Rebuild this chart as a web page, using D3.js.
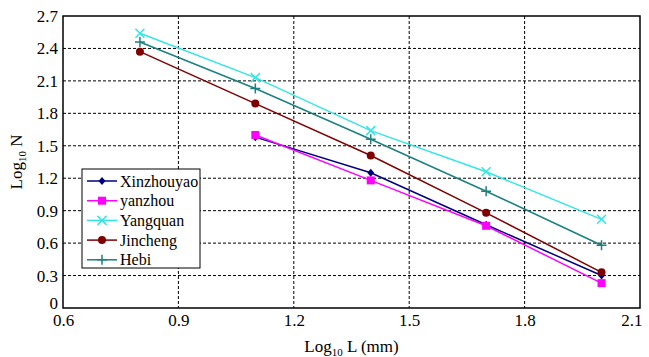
<!DOCTYPE html>
<html>
<head>
<meta charset="utf-8">
<script src="https://cdn.jsdelivr.net/npm/d3@7"></script>
<style>
  body { margin: 0; background: #fff; }
  svg { display: block; font-family: "Liberation Serif", "Times New Roman", serif; }
  svg text { font-family: "Liberation Serif", "Times New Roman", serif; }
</style>
</head>
<body>
<svg width="649" height="357"></svg>
<script>
'use strict'

// data
const xVals = [0.8, 1.1, 1.4, 1.7, 2.0];
const xTicks = [0.6, 0.9, 1.2, 1.5, 1.8, 2.1];
const yTicks = [0, 0.3, 0.6, 0.9, 1.2, 1.5, 1.8, 2.1, 2.4, 2.7];

const xinzhouyao = [null, 1.58, 1.25, 0.77, 0.30];
const yanzhou = [null, 1.60, 1.18, 0.76, 0.23];
const yangquan = [2.54, 2.13, 1.64, 1.26, 0.82];
const jincheng = [2.37, 1.89, 1.41, 0.88, 0.33];
const hebi = [2.46, 2.03, 1.56, 1.08, 0.58];

const series = [
  { name: 'Xinzhouyao', values: xinzhouyao, color: '#00007f', marker: 'diamond' },
  { name: 'yanzhou', values: yanzhou, color: '#ff00ff', marker: 'square' },
  { name: 'Yangquan', values: yangquan, color: '#33e6e6', marker: 'cross' },
  { name: 'Jincheng', values: jincheng, color: '#800000', marker: 'circle' },
  { name: 'Hebi', values: hebi, color: '#1a8080', marker: 'plus' }
];

const svg = d3.select('svg');
const pLeft = 63, pRight = 640, pTop = 16, pBottom = 308;

const x = d3.scaleLinear().domain([0.6, 2.1]).range([pLeft, pRight]);
const y = d3.scaleLinear().domain([0, 2.7]).range([pBottom, pTop]);

// grid
svg.append('g')
  .selectAll('line')
  .data(xTicks.slice(1, -1))
  .join('line')
  .attr('x1', d => x(d)).attr('x2', d => x(d))
  .attr('y1', pTop).attr('y2', pBottom)
  .attr('stroke', '#000').attr('stroke-width', 1).attr('stroke-dasharray', '3,2');

svg.append('g')
  .selectAll('line')
  .data(yTicks.slice(1, -1))
  .join('line')
  .attr('x1', pLeft).attr('x2', pRight)
  .attr('y1', d => y(d)).attr('y2', d => y(d))
  .attr('stroke', '#000').attr('stroke-width', 1).attr('stroke-dasharray', '3,2');

// axes
const xAxis = svg.append('g')
  .attr('transform', `translate(0,${pBottom})`)
  .call(d3.axisBottom(x).tickValues(xTicks).tickSize(0).tickPadding(6).tickFormat(d3.format('.1f')))
  .attr('font-size', 17);
xAxis.select('.domain').remove();
xAxis.selectAll('text').attr('fill', '#000');
xAxis.selectAll('.tick').filter(d => d === 2.1).select('text')
  .attr('text-anchor', 'end').attr('dx', 2);

const yAxis = svg.append('g')
  .attr('transform', `translate(${pLeft},0)`)
  .call(d3.axisLeft(y).tickValues(yTicks).tickSize(0).tickPadding(5)
    .tickFormat(d => d === 0 ? '0' : d3.format('.1f')(d)))
  .attr('font-size', 17);
yAxis.select('.domain').remove();
yAxis.selectAll('text').attr('fill', '#000');
yAxis.selectAll('.tick').filter(d => d === 0).select('text').attr('dy', '0em');

// frame
svg.append('rect')
  .attr('x', pLeft).attr('y', pTop)
  .attr('width', pRight - pLeft).attr('height', pBottom - pTop)
  .attr('fill', 'none').attr('stroke', '#000').attr('stroke-width', 1.5);

// axis titles
const xt = svg.append('text')
  .attr('x', (pLeft + pRight) / 2).attr('y', 352)
  .attr('text-anchor', 'middle').attr('font-size', 17);
xt.append('tspan').text('Log');
xt.append('tspan').text('10').attr('font-size', 11).attr('dy', 4);
xt.append('tspan').text(' L (mm)').attr('dy', -4);

const yt = svg.append('text')
  .attr('transform', `translate(22,${(pTop + pBottom) / 2}) rotate(-90)`)
  .attr('text-anchor', 'middle').attr('font-size', 17);
yt.append('tspan').text('Log');
yt.append('tspan').text('10').attr('font-size', 11).attr('dy', 4);
yt.append('tspan').text(' N').attr('dy', -4);

function drawMarker(g, type, color) {
  if (type === 'diamond') {
    g.append('path').attr('d', 'M0,-4L3.5,0L0,4L-3.5,0Z').attr('fill', color);
  } else if (type === 'square') {
    g.append('rect').attr('x', -4).attr('y', -4).attr('width', 8).attr('height', 8).attr('fill', color);
  } else if (type === 'circle') {
    g.append('circle').attr('r', 4).attr('fill', color);
  } else if (type === 'cross') {
    g.append('path').attr('d', 'M-4.5,-4.5L4.5,4.5M-4.5,4.5L4.5,-4.5')
      .attr('stroke', color).attr('stroke-width', 1.5);
  } else if (type === 'plus') {
    g.append('path').attr('d', 'M-5,0L5,0M0,-5L0,5')
      .attr('stroke', color).attr('stroke-width', 1.5);
  }
}

const line = d3.line()
  .defined(d => d.v != null)
  .x(d => x(d.x)).y(d => y(d.v));

series.forEach(s => {
  const pts = xVals.map((xv, i) => ({ x: xv, v: s.values[i] }));
  svg.append('path')
    .datum(pts)
    .attr('d', line)
    .attr('fill', 'none')
    .attr('stroke', s.color)
    .attr('stroke-width', 1.5);
  pts.filter(d => d.v != null).forEach(d => {
    const g = svg.append('g').attr('transform', `translate(${x(d.x)},${y(d.v)})`);
    drawMarker(g, s.marker, s.color);
  });
});

// legend
const legend = svg.append('g');
legend.append('rect')
  .attr('x', 82).attr('y', 169).attr('width', 118).attr('height', 99)
  .attr('fill', '#fff').attr('stroke', '#000').attr('stroke-width', 1);

series.forEach((s, i) => {
  const ly = 181 + i * 19.7;
  legend.append('line')
    .attr('x1', 87).attr('x2', 117).attr('y1', ly).attr('y2', ly)
    .attr('stroke', s.color).attr('stroke-width', 1.5);
  drawMarker(legend.append('g').attr('transform', `translate(102,${ly})`), s.marker, s.color);
  legend.append('text')
    .attr('x', 120).attr('y', ly).attr('dy', '0.35em')
    .attr('font-size', 16).text(s.name);
});
</script>
</body>
</html>
